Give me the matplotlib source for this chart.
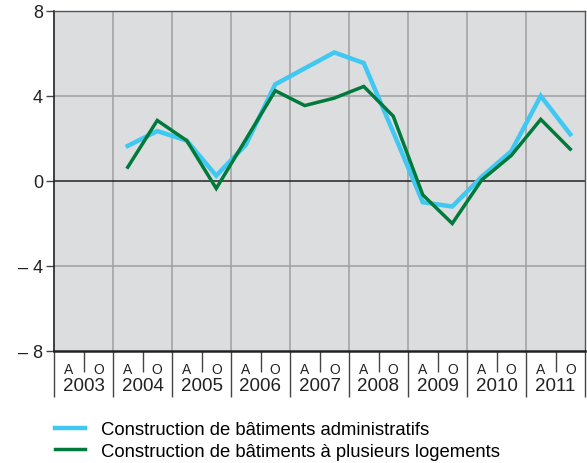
import numpy as np
import matplotlib
matplotlib.use("Agg")
import matplotlib.pyplot as plt
from matplotlib.transforms import blended_transform_factory

plt.rcParams["font.family"] = ["Liberation Sans", "DejaVu Sans"]

years = ["2003", "2004", "2005", "2006", "2007", "2008", "2009", "2010", "2011"]
halves = ["A", "O"]

# values from 2004 A to 2011 O (2003 has no data)
admin = [1.65, 2.35, 1.9, 0.25, 1.7, 4.55, 5.3, 6.05, 5.55, 2.3,
         -1.0, -1.2, 0.2, 1.4, 4.0, 2.2]
logements = [0.65, 2.85, 1.9, -0.35, 1.95, 4.25, 3.55, 3.9, 4.45, 3.05,
             -0.65, -2.0, 0.05, 1.2, 2.9, 1.5]

blue = "#3fc8f2"
green = "#007a3a"
bg = "#dcdddf"
grid = "#a3a4a6"

n_slots = len(years) * len(halves)
slot_x = np.arange(n_slots) + 0.5
start = n_slots - len(admin)

fig = plt.figure(figsize=(5.87, 4.64), dpi=100)
ax = fig.add_axes([54 / 587, 1 - 352 / 464, 531 / 587, 340 / 464])
ax.set_facecolor(bg)

ax.set_xlim(0, n_slots)
ax.set_ylim(-8, 8)

# grid
for xv in range(2, n_slots, 2):
    ax.axvline(xv, color=grid, lw=1.2, zorder=1)
for yv in (-4, 4):
    ax.axhline(yv, color=grid, lw=1.2, zorder=1)
ax.axhline(0, color="#222222", lw=1.1, zorder=2)

l1, = ax.plot(slot_x[start:], admin, color=blue, lw=3.2, zorder=3,
              solid_joinstyle="miter", label="Construction de bâtiments administratifs")
l2, = ax.plot(slot_x[start:], logements, color=green, lw=2.5, zorder=4,
              solid_joinstyle="miter", label="Construction de bâtiments à plusieurs logements")

ax.set_yticks([8, 4, 0, -4, -8])
ax.set_yticklabels(["8", "4", "0", "– 4", "– 8"], fontsize=13, color="#222222")
ax.tick_params(axis="y", length=6, width=1, color="#444444", pad=2)

ax.set_xticks(np.arange(0, n_slots + 1, 2))
ax.set_xticks(np.arange(1, n_slots, 2), minor=True)
ax.tick_params(axis="x", which="major", length=33, width=1, color="#444444", labelbottom=False)
ax.tick_params(axis="x", which="minor", length=15, width=1, color="#444444", labelbottom=False)

for side in ("top", "right"):
    ax.spines[side].set_color("#555555")
    ax.spines[side].set_linewidth(1)
ax.spines["left"].set_color("#222222")
ax.spines["left"].set_linewidth(1.2)
ax.spines["bottom"].set_color("#222222")
ax.spines["bottom"].set_linewidth(1.8)

trans = blended_transform_factory(ax.transData, ax.transAxes)
for i in range(n_slots):
    ax.annotate(halves[i % 2], (slot_x[i], 0), xycoords=trans,
                xytext=(0, -13), textcoords="offset points",
                ha="center", va="center", fontsize=10, color="#222222")
for k, yr in enumerate(years):
    ax.annotate(yr, (2 * k + 1, 0), xycoords=trans,
                xytext=(0, -25), textcoords="offset points",
                ha="center", va="center", fontsize=13.5, color="#222222")

fig.legend(handles=[l1, l2], loc="upper left", bbox_to_anchor=(55 / 587, 1 - 422 / 464),
           frameon=False, fontsize=13.3, handlelength=1.65, handletextpad=0.85,
           labelspacing=0.25, borderaxespad=0, borderpad=0)

fig.savefig("out.png", dpi=100)
